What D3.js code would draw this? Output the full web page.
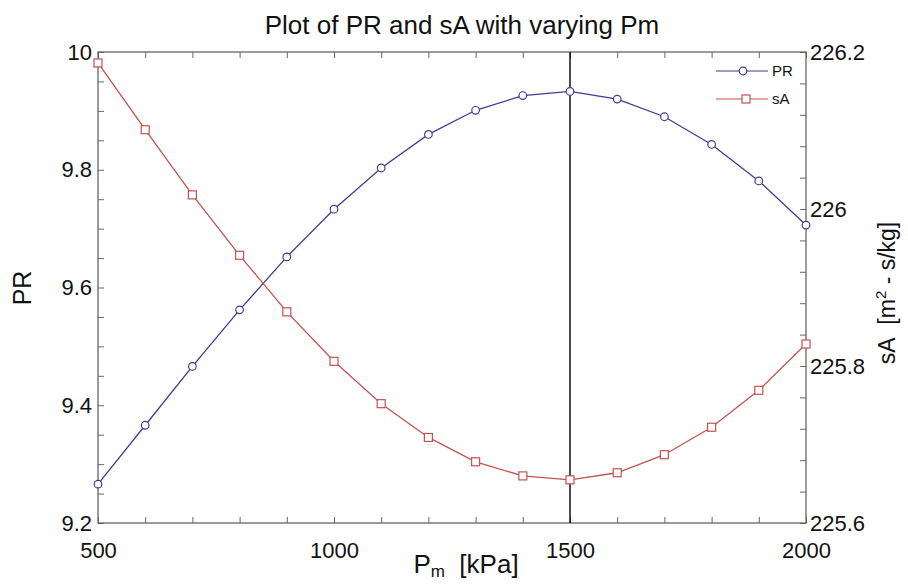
<!DOCTYPE html>
<html>
<head>
<meta charset="utf-8">
<script src="https://cdn.jsdelivr.net/npm/d3@7"></script>
<style>
  body { margin: 0; background: #fff; }
  text { font-family: "Liberation Sans", Arial, sans-serif; }
</style>
</head>
<body>
<div id="chart"></div>
<script>
// donnees
const pm = [500, 600, 700, 800, 900, 1000, 1100, 1200, 1300, 1400, 1500, 1600, 1700, 1800, 1900, 2000]
const prValues = [9.266, 9.366, 9.466, 9.562, 9.652, 9.733, 9.803, 9.860, 9.901, 9.926, 9.933, 9.920, 9.890, 9.843, 9.781, 9.706]
const saValues = [226.186, 226.101, 226.018, 225.941, 225.869, 225.806, 225.752, 225.709, 225.678, 225.660, 225.655, 225.664, 225.687, 225.722, 225.769, 225.828]
const xLabels = [500, 1000, 1500, 2000]
const prLabels = [9.2, 9.4, 9.6, 9.8, 10]
const saLabels = [225.6, 225.8, 226, 226.2]
const markerPm = 1500

const WIDTH = 908
const HEIGHT = 585
const LEFT = 98
const RIGHT = 806
const TOP = 52
const BOTTOM = 523
const BLUE = '#3d3d96'
const RED = '#c4524f'
const AXIS = '#666'

const svg = d3.select('#chart').append('svg').attr('width', WIDTH).attr('height', HEIGHT)

const x = d3.scaleLinear().domain([500, 2000]).range([LEFT, RIGHT])
const yPR = d3.scaleLinear().domain([9.2, 10]).range([BOTTOM, TOP])
const ySA = d3.scaleLinear().domain([225.6, 226.2]).range([BOTTOM, TOP])

const near = (arr, v) => arr.some(a => Math.abs(a - v) < 1e-6)
const fmt = d3.format('~g')

// petits traits tous les 100 kPa, 0.05 et 0.04
const xMinor = d3.range(500, 2001, 100)
const prMinor = d3.range(0, 17).map(i => 9.2 + i * 0.05)
const saMinor = d3.range(0, 16).map(i => 225.6 + i * 0.04)

function styleAxis(g) {
  g.select('.domain').remove()
  g.selectAll('line').attr('stroke', AXIS).attr('stroke-width', 1)
  g.selectAll('text').attr('font-size', 22).attr('fill', '#111')
}

svg.append('g')
  .attr('transform', `translate(0, ${BOTTOM})`)
  .call(d3.axisBottom(x).tickValues(xMinor).tickSize(-6).tickPadding(19)
    .tickFormat(v => near(xLabels, v) ? fmt(v) : ''))
  .call(styleAxis)

svg.append('g')
  .attr('transform', `translate(0, ${TOP})`)
  .call(d3.axisTop(x).tickValues(xMinor).tickSize(-6).tickFormat(''))
  .call(styleAxis)

svg.append('g')
  .attr('transform', `translate(${LEFT}, 0)`)
  .call(d3.axisLeft(yPR).tickValues(prMinor).tickSize(-6).tickPadding(6)
    .tickFormat(v => near(prLabels, v) ? fmt(v) : ''))
  .call(styleAxis)

svg.append('g')
  .attr('transform', `translate(${RIGHT}, 0)`)
  .call(d3.axisRight(ySA).tickValues(saMinor).tickSize(-6).tickPadding(4)
    .tickFormat(v => near(saLabels, v) ? fmt(v) : ''))
  .call(styleAxis)

// cadre
svg.append('rect')
  .attr('x', LEFT).attr('y', TOP)
  .attr('width', RIGHT - LEFT).attr('height', BOTTOM - TOP)
  .attr('fill', 'none').attr('stroke', AXIS).attr('stroke-width', 1.3)

// ligne verticale a Pm = 1500
svg.append('line')
  .attr('x1', x(markerPm)).attr('x2', x(markerPm))
  .attr('y1', TOP).attr('y2', BOTTOM)
  .attr('stroke', '#111').attr('stroke-width', 1.5)

const prLine = d3.line().x((d, i) => x(pm[i])).y(d => yPR(d))
const saLine = d3.line().x((d, i) => x(pm[i])).y(d => ySA(d))

svg.append('path').attr('d', prLine(prValues))
  .attr('fill', 'none').attr('stroke', BLUE).attr('stroke-width', 1.3)
svg.append('path').attr('d', saLine(saValues))
  .attr('fill', 'none').attr('stroke', RED).attr('stroke-width', 1.3)

svg.append('g').selectAll('circle')
  .data(prValues)
  .enter()
  .append('circle')
  .attr('cx', (d, i) => x(pm[i]))
  .attr('cy', d => yPR(d))
  .attr('r', 3.8)
  .attr('fill', 'white')
  .attr('stroke', BLUE).attr('stroke-width', 1.2)

svg.append('g').selectAll('rect')
  .data(saValues)
  .enter()
  .append('rect')
  .attr('x', (d, i) => x(pm[i]) - 4)
  .attr('y', d => ySA(d) - 4)
  .attr('width', 8).attr('height', 8)
  .attr('fill', 'white')
  .attr('stroke', RED).attr('stroke-width', 1.2)

// legende
const legend = svg.append('g')
const legendItems = [
  { name: 'PR', color: BLUE, y: 71, shape: 'circle' },
  { name: 'sA', color: RED, y: 99, shape: 'square' }
]
legendItems.forEach(item => {
  legend.append('line')
    .attr('x1', 716).attr('x2', 768).attr('y1', item.y).attr('y2', item.y)
    .attr('stroke', item.color).attr('stroke-width', 1.2)
  if (item.shape === 'circle') {
    legend.append('circle').attr('cx', 743).attr('cy', item.y).attr('r', 3.8)
      .attr('fill', 'white').attr('stroke', item.color).attr('stroke-width', 1.2)
  } else {
    legend.append('rect').attr('x', 742).attr('y', item.y - 4).attr('width', 8).attr('height', 8)
      .attr('fill', 'white').attr('stroke', item.color).attr('stroke-width', 1.2)
  }
  legend.append('text').attr('x', 772).attr('y', item.y + 5)
    .attr('font-size', 15).attr('fill', '#111').text(item.name)
})

// titres
svg.append('text')
  .attr('x', 462).attr('y', 34)
  .attr('text-anchor', 'middle')
  .attr('font-size', 26)
  .attr('fill', '#111')
  .text('Plot of PR and sA with varying Pm')

const xTitle = svg.append('text')
  .attr('x', 466).attr('y', 573)
  .attr('text-anchor', 'middle')
  .attr('font-size', 26)
  .attr('fill', '#111')
xTitle.append('tspan').text('P')
xTitle.append('tspan').attr('font-size', 17).attr('dy', 4).text('m')
xTitle.append('tspan').attr('dy', -4).text('\u00a0\u00a0[kPa]')

svg.append('text')
  .attr('transform', 'translate(31, 288) rotate(-90)')
  .attr('text-anchor', 'middle')
  .attr('font-size', 25)
  .attr('fill', '#111')
  .text('PR')

const yTitle = svg.append('text')
  .attr('transform', 'translate(895, 293) rotate(-90)')
  .attr('text-anchor', 'middle')
  .attr('font-size', 23)
  .attr('fill', '#111')
yTitle.append('tspan').text('sA\u00a0\u00a0[m')
yTitle.append('tspan').attr('font-size', 15).attr('dy', -9).text('2')
yTitle.append('tspan').attr('dy', 9).text(' - s/kg]')
</script>
</body>
</html>
